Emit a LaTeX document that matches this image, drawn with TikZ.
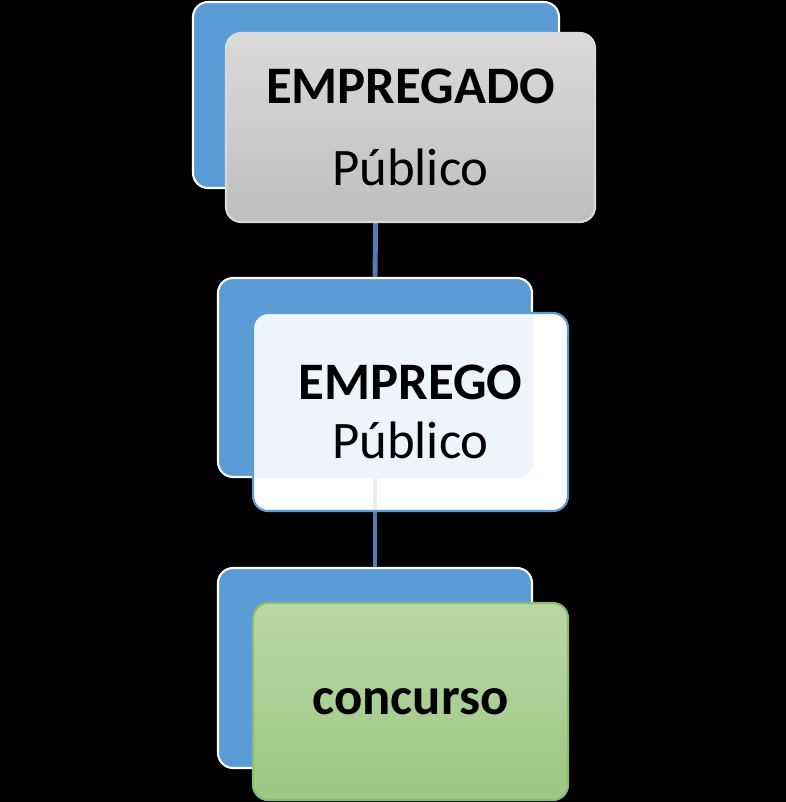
\documentclass[tikz,border=0pt]{standalone}
\usepackage{fontspec}
\setmainfont{Carlito}
\usepackage{xcolor}
\usetikzlibrary{positioning}
\definecolor{backblue}{HTML}{5B9BD5}
\definecolor{linkblue}{HTML}{4F7FB5}
\definecolor{grayhi}{HTML}{DADADA}
\definecolor{graylo}{HTML}{BEBEBE}
\definecolor{greenhi}{HTML}{B8D8A6}
\definecolor{greenlo}{HTML}{9CC783}
\definecolor{greenedge}{HTML}{8DBB6E}

\begin{document}
\begin{tikzpicture}[
    back/.style={rectangle, draw=white, line width=0.6pt, rounded corners=4.3pt,
                 fill=backblue, minimum width=3.14cm, minimum height=1.99cm},
    front/.style={rectangle, rounded corners=4.3pt, minimum width=3.15cm,
                  minimum height=1.98cm, align=center, line width=0.6pt,
                  font=\fontsize{15}{18}\selectfont},
    link/.style={draw=linkblue, line width=1.4pt},
]
    % Background
    \useasboundingbox (0, 0) rectangle (7.86, -8.02);
    \fill[black] (0, 0) rectangle (7.86, -8.02);

    % Back boxes
    \node[back, minimum width=3.66cm, minimum height=1.86cm] (b1) at (3.76, -0.95) {};
    \node[back] (b2) at (3.75, -3.775) {};
    \node[back, minimum height=2.0cm] (b3) at (3.75, -6.68) {};

    % Links
    \draw[link] (b1.south) -- (b2.north);
    \draw[link] (b2.south) -- (b3.north);

    % Front boxes
    \node[front, draw=grayhi, top color=grayhi, bottom color=graylo,
          minimum width=3.69cm, minimum height=1.89cm] (empregado) at (4.105, -1.275)
          {\textbf{EMPREGADO}\\[0.18cm]Público};
    \node[front, draw=backblue, fill=white,
          path picture={
              \fill[backblue, opacity=0.1, rounded corners=4.3pt]
                  (b2.south west) rectangle (b2.north east);
              \draw[link, opacity=0.12] (b2.south) -- (b3.north);
          }] (emprego)
          at (4.105, -4.12) {\textbf{EMPREGO}\\[-0.05cm]Público};
    \node[front, draw=greenedge, top color=greenhi, bottom color=greenlo,
          minimum height=1.97cm] (concurso) at (4.105, -7.015) {\textbf{concurso}};
\end{tikzpicture}
\end{document}
